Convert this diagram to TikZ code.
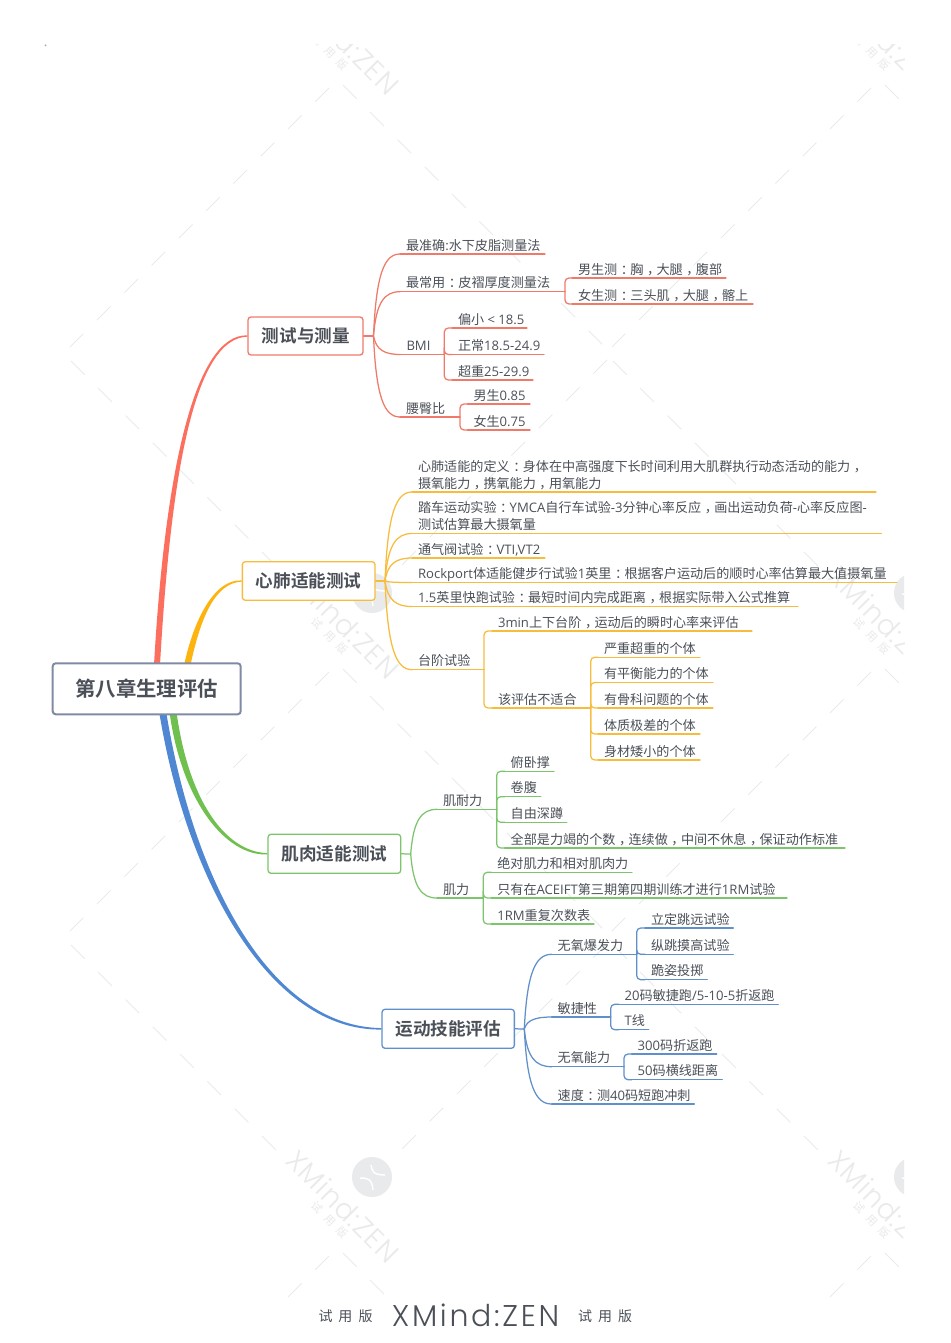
\documentclass[tikz,border=0pt]{standalone}
\usepackage{fontspec}
\usetikzlibrary{calc}
\setmainfont{Open Sans}
\newfontfamily\cjk{Noto Sans CJK SC}
\newfontfamily\cjkb{Noto Sans CJK SC}[BoldFont={* Bold}]
\newfontfamily\wmfont{Poppins Light}[LetterSpace=4]
\newfontfamily\ftfont{Poppins Light}[LetterSpace=9]
\newcommand\zh[1]{{\cjk #1}}
\newcommand\dc{\makebox[13.1pt][l]{\hspace{3.6pt}，}}
\newcommand\dl{\makebox[13.1pt][l]{\hspace{3.6pt}：}}
\newcommand\lowr[1]{\raisebox{-0.8pt}{#1}}
\definecolor{txt}{HTML}{4B5058}
\definecolor{wm}{HTML}{E8EAEC}
\definecolor{rootb}{HTML}{7F8BA5}
\definecolor{tred}{HTML}{FC6F5F}
\definecolor{torg}{HTML}{FDB40F}
\definecolor{tgrn}{HTML}{70C050}
\definecolor{tblu}{HTML}{4F87D3}
\definecolor{lred}{HTML}{EF7A6A}
\definecolor{lorg}{HTML}{F7BC3C}
\definecolor{lgrn}{HTML}{7DC56C}
\definecolor{lblu}{HTML}{5F90CB}
\tikzset{
  wmdash/.style={draw=wm,line width=0.9pt,dash pattern=on 19.3pt off 19.3pt},
  leafnode/.style={anchor=south west,inner sep=0pt,outer sep=0pt,align=left,text=txt,font=\fontsize{13.1}{16}\selectfont},
  conn/.style={line width=1.25pt,line cap=round},
  topic/.style={draw,fill=white,rounded corners=3pt,line width=1.3pt,inner sep=0pt,text=txt,
     font=\cjkb\bfseries\fontsize{17.6}{20}\selectfont},
  rootnode/.style={draw=rootb,fill=white,rounded corners=3pt,line width=2pt,inner sep=0pt,text=txt,
     font=\cjkb\bfseries\fontsize{20.4}{24}\selectfont},
  foot/.style={inner sep=0pt,text=txt,font=\cjk\fontsize{14}{16}\selectfont},
}
\newcommand\mmleaf[6]{% colour, name, text x, end x, line y, text
  \pgfmathsetmacro\lw{#4-#3+6}
  \node[leafnode,text width=\lw pt] (#2) at (#3-6,#5)
    {\hbox{\hspace{6pt}\rule[-3.9pt]{0pt}{16pt}#6}};
  \draw[conn,#1] (#2.south west) -- (#2.south east);
}
\newcommand\mmcurve[3]{% colour, hub, leaf
  \draw[conn,#1] let \p1=(#2), \p2=(#3.south west) in
    (\p1) .. controls (\x1+0.1*\x2-0.1*\x1,\y2+0.25*\y1-0.25*\y2) and (\x1+0.4*\x2-0.4*\x1,\y2) .. (\p2);
}
\newcommand\mmbr[3]{% colour, parent, child
  \draw[conn,#1,rounded corners=4pt] (#2.south east) |- (#3.south west);
}
\newcommand\branch[7]{% colour, start, c1, c2, end node, half width at start (x), half width at c2 (signed y)
  \fill[#1] ($(#2)+(-#6,0)$) .. controls ($(#3)+(-#6,0)$) and ($(#4)+(0,-#7)$) .. ($(#5.west)+(0,-0.3*#7)$)
     -- ($(#5.west)+(0,0.3*#7)$) .. controls ($(#4)+(0,#7)$) and ($(#3)+(#6,0)$) .. ($(#2)+(#6,0)$) -- cycle;
}
\newcommand\twolines[2]{\vbox{\baselineskip=17pt\lineskiplimit=-20pt\hbox{#1}\hbox{#2}}}
\begin{document}
\begin{tikzpicture}[x=1pt,y=-1pt]
\useasboundingbox (0,0) rectangle (950,1343);
\fill[white] (0,0) rectangle (950,1343);
% watermark
\begin{scope}
\clip (45,45) rectangle (904,1300);
\foreach \i in {0,1} {
 \foreach \j in {0,1,2} {
  \begin{scope}[shift={(542*\i,584*\j)}]
   \draw[wmdash] (329,88) -- (70,347);
   \draw[wmdash] (343,85) -- (604,346);
   \ifnum\j<2
   \draw[wmdash] (71,361) -- (276,566);
   \draw[wmdash] (607,360) -- (390,577);
   \fi
   \fill[wm] (372,9) circle (20);
   \draw[white,line width=1.5pt] (371,-3) .. controls (372,3) and (373,7) .. (385,7);
   \draw[white,line width=1.5pt] (360,10) .. controls (368,10) and (372,11) .. (373,22);
   \node[rotate=-45,inner sep=0pt,text=wm,font=\wmfont\fontsize{28}{30}\selectfont] (wm\i\j) at (343,38) {XMind:ZEN};
   \node[rotate=-45,inner sep=0pt,text=wm,font=\cjk\fontsize{11}{12}\selectfont] (wt\i\j) at (330,52) {试\hspace{7pt}用\hspace{7pt}版};
  \end{scope}
 }
}
\end{scope}
\fill[gray!70] (45.5,45.5) circle (1);
% footer
\node[foot] (fa) at (345.5,1316.5) {试\hspace{6pt}用\hspace{6pt}版};
\node[inner sep=0pt,text=txt,font=\ftfont\fontsize{30}{32}\selectfont] (fb) at (475.5,1315) {XMind:ZEN};
\node[foot] (fc) at (605,1316.5) {试\hspace{6pt}用\hspace{6pt}版};
% root and main topics
\coordinate (r1) at (157,665);
\coordinate (r2) at (187.3,665);
\coordinate (r3) at (173,712);
\coordinate (r4) at (162.7,712);
\node[topic,draw=lred,minimum width=115pt,minimum height=38pt] (t1) at (305.5,336) {\lowr{\kern0.6pt 测试与测量}};
\node[topic,draw=lorg,minimum width=132.7pt,minimum height=38.6pt] (t2) at (308.7,581) {\lowr{心肺适能测试}};
\node[topic,draw=lgrn,minimum width=132.7pt,minimum height=39pt] (t3) at (334.4,853.8) {\lowr{肌肉适能测试}};
\node[topic,draw=lblu,minimum width=132.3pt,minimum height=39pt] (t4) at (448.2,1028.8) {\lowr{运动技能评估}};
\branch{tred}{r1}{168,470}{195,336}{t1}{3}{2.2}
\branch{torg}{r2}{197,620}{214,581}{t2}{3.2}{2.0}
\branch{tgrn}{r3}{185,800}{225,854}{t3}{3.5}{-2.2}
\branch{tblu}{r4}{190,880}{270,1029}{t4}{3.5}{-2.4}
\node[rootnode,minimum width=188pt,minimum height=51pt] (root) at (146.7,688.8) {\lowr{第八章生理评估}};
% hubs
\coordinate (h1) at (373.5,336);
\coordinate (h2) at (385,581);
\coordinate (h3) at (410.7,854);
\coordinate (h4) at (524.3,1029);
\draw[conn,lred] (t1.east) -- (h1);
\draw[conn,lorg] (t2.east) -- (h2);
\draw[conn,lgrn] (t3.east) -- (h3);
\draw[conn,lblu] (t4.east) -- (h4);
% red
\mmleaf{lred}{a1}{406}{545}{254}{\zh{最准确}:\zh{水下皮脂测量法}}
\mmleaf{lred}{a2}{406}{565}{291.7}{\zh{最常用\dl 皮褶厚度测量法}}
\mmleaf{lred}{a21}{578}{726}{278}{\zh{男生测\dl 胸\dc 大腿\dc 腹部}}
\mmleaf{lred}{a22}{578}{753}{304}{\zh{女生测\dl 三头肌\dc 大腿\dc 髂上}}
\mmleaf{lred}{a3}{406.5}{444.3}{354.5}{BMI}
\mmleaf{lred}{a31}{458}{527}{328}{\zh{偏小}\hspace{-1pt} <\hspace{-1pt} 18.5}
\mmleaf{lred}{a32}{458}{544}{354.5}{\zh{正常}18.5-24.9}
\mmleaf{lred}{a33}{458}{533}{380}{\zh{超重}25-29.9}
\mmleaf{lred}{a4}{406}{460}{417}{\zh{腰臀比}}
\mmleaf{lred}{a41}{473.5}{530}{404}{\zh{男生}0.85}
\mmleaf{lred}{a42}{473.5}{530}{430}{\zh{女生}0.75}
\mmcurve{lred}{h1}{a1}\mmcurve{lred}{h1}{a2}\mmcurve{lred}{h1}{a3}\mmcurve{lred}{h1}{a4}
\mmbr{lred}{a2}{a21}\mmbr{lred}{a2}{a22}
\mmbr{lred}{a3}{a31}\mmbr{lred}{a3}{a32}\mmbr{lred}{a3}{a33}
\mmbr{lred}{a4}{a41}\mmbr{lred}{a4}{a42}
% orange
\mmleaf{lorg}{b1}{418}{876}{492}{\twolines{\zh{心肺适能的定义\dl 身体在中高强度下长时间利用大肌群执行动态活动的能力\dc}}{\zh{摄氧能力\dc 携氧能力\dc 用氧能力}}}
\mmleaf{lorg}{b2}{418}{881.5}{533.5}{\twolines{\zh{踏车运动实验\dl}YMCA\zh{自行车试验}-3\zh{分钟心率反应\dc 画出运动负荷}-\zh{心率反应图}-}{\zh{测试估算最大摄氧量}}}
\mmleaf{lorg}{b3}{418}{545}{558}{\zh{通气阀试验\dl}VTI,VT2}
\mmleaf{lorg}{b4}{418}{897}{582.5}{Rockport\zh{体适能健步行试验}1\zh{英里\dl 根据客户运动后的顺时心率估算最大值摄氧量}}
\mmleaf{lorg}{b5}{418}{798}{606.5}{1.5\zh{英里快跑试验\dl 最短时间内完成距离\dc 根据实际带入公式推算}}
\mmleaf{lorg}{b6}{418}{484}{669.7}{\zh{台阶试验}}
\mmleaf{lorg}{b61}{498}{752}{631}{3min\zh{上下台阶\dc 运动后的瞬时心率来评估}}
\mmleaf{lorg}{b62}{498}{590.7}{708}{\zh{该评估不适合}}
\mmleaf{lorg}{c1}{604}{700}{657.3}{\zh{严重超重的个体}}
\mmleaf{lorg}{c2}{604}{713}{682.5}{\zh{有平衡能力的个体}}
\mmleaf{lorg}{c3}{604}{713}{708}{\zh{有骨科问题的个体}}
\mmleaf{lorg}{c4}{604}{700}{734}{\zh{体质极差的个体}}
\mmleaf{lorg}{c5}{604}{700}{760}{\zh{身材矮小的个体}}
\mmcurve{lorg}{h2}{b1}\mmcurve{lorg}{h2}{b2}\mmcurve{lorg}{h2}{b3}\mmcurve{lorg}{h2}{b4}\mmcurve{lorg}{h2}{b5}\mmcurve{lorg}{h2}{b6}
\mmbr{lorg}{b6}{b61}\mmbr{lorg}{b6}{b62}
\mmbr{lorg}{b62}{c1}\mmbr{lorg}{b62}{c2}\mmbr{lorg}{b62}{c3}\mmbr{lorg}{b62}{c4}\mmbr{lorg}{b62}{c5}
% green
\mmleaf{lgrn}{d1}{443}{496.7}{809.3}{\zh{肌耐力}}
\mmleaf{lgrn}{d11}{510.7}{554}{771.3}{\zh{俯卧撑}}
\mmleaf{lgrn}{d12}{510.7}{540.7}{796.7}{\zh{卷腹}}
\mmleaf{lgrn}{d13}{510.7}{566.7}{822.3}{\zh{自由深蹲}}
\mmleaf{lgrn}{d14}{510.7}{845}{848}{\zh{全部是力竭的个数\dc 连续做\dc 中间不休息\dc 保证动作标准}}
\mmleaf{lgrn}{d2}{443}{483.3}{898}{\zh{肌力}}
\mmleaf{lgrn}{d21}{497.3}{632}{872.3}{\zh{绝对肌力和相对肌肉力}}
\mmleaf{lgrn}{d22}{497.3}{787}{898}{\zh{只有在}ACEIFT\zh{第三期第四期训练才进行}1RM\zh{试验}}
\mmleaf{lgrn}{d23}{497.3}{594}{924}{1RM\zh{重复次数表}}
\mmcurve{lgrn}{h3}{d1}\mmcurve{lgrn}{h3}{d2}
\mmbr{lgrn}{d1}{d11}\mmbr{lgrn}{d1}{d12}\mmbr{lgrn}{d1}{d13}\mmbr{lgrn}{d1}{d14}
\mmbr{lgrn}{d2}{d21}\mmbr{lgrn}{d2}{d22}\mmbr{lgrn}{d2}{d23}
% blue
\mmleaf{lblu}{e1}{557.7}{636.7}{954.3}{\zh{无氧爆发力}}
\mmleaf{lblu}{e11}{651}{733.3}{928}{\zh{立定跳远试验}}
\mmleaf{lblu}{e12}{651}{733.3}{954.3}{\zh{纵跳摸高试验}}
\mmleaf{lblu}{e13}{651}{707.3}{979.7}{\zh{跪姿投掷}}
\mmleaf{lblu}{e2}{557.7}{610.7}{1017}{\zh{敏捷性}}
\mmleaf{lblu}{e21}{624.7}{778.3}{1004.3}{20\zh{码敏捷跑}/5-10-5\zh{折返跑}}
\mmleaf{lblu}{e22}{624.7}{648.7}{1029.7}{T\zh{线}}
\mmleaf{lblu}{e3}{557.7}{624}{1066.7}{\zh{无氧能力}}
\mmleaf{lblu}{e31}{637.7}{716.7}{1054}{300\zh{码折返跑}}
\mmleaf{lblu}{e32}{637.7}{722.3}{1079.7}{50\zh{码横线距离}}
\mmleaf{lblu}{e4}{557.7}{694.3}{1104}{\zh{速度\dl 测}40\zh{码短跑冲刺}}
\mmcurve{lblu}{h4}{e1}\mmcurve{lblu}{h4}{e2}\mmcurve{lblu}{h4}{e3}\mmcurve{lblu}{h4}{e4}
\mmbr{lblu}{e1}{e11}\mmbr{lblu}{e1}{e12}\mmbr{lblu}{e1}{e13}
\mmbr{lblu}{e2}{e21}\mmbr{lblu}{e2}{e22}
\mmbr{lblu}{e3}{e31}\mmbr{lblu}{e3}{e32}
\end{tikzpicture}
\end{document}
